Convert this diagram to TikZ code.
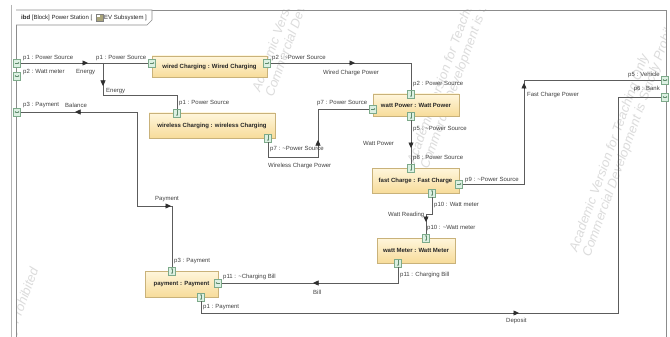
\documentclass[tikz,border=0pt]{standalone}
\usepackage{fontspec}
\setmainfont{Liberation Sans}
\usetikzlibrary{arrows.meta,shadows,calc}

\definecolor{frameline}{HTML}{8C8C8C}
\definecolor{canvasline}{HTML}{B4B4B4}
\definecolor{wirecol}{HTML}{5C5C5C}
\definecolor{tipcolor}{HTML}{2E2E2E}
\definecolor{labeltext}{HTML}{404040}
\definecolor{blocktop}{HTML}{FFF6DC}
\definecolor{blockbottom}{HTML}{F7DC9A}
\definecolor{blockedge}{HTML}{C9B27A}
\definecolor{portfill}{HTML}{DCF0E2}
\definecolor{portedge}{HTML}{7DAA8A}
\definecolor{glyphcol}{HTML}{5E8A6B}
\definecolor{wmcol}{HTML}{DCDCDC}
\definecolor{iconfill}{HTML}{A9A47A}

\tikzset{
  partbox/.style={draw=blockedge, line width=0.5pt, top color=blocktop, bottom color=blockbottom,
    drop shadow={shadow xshift=1.3pt, shadow yshift=-1.3pt, opacity=0.22},
    font=\fontsize{6}{7}\selectfont\bfseries, text=black!85, inner sep=0pt},
  port/.style={draw=portedge, fill=portfill, line width=0.45pt, minimum width=7pt,
    minimum height=8.5pt, inner sep=0pt},
  glyph/.style={draw=glyphcol, line width=0.3pt},
  gtip/.tip={Stealth[length=1.6pt,width=1.8pt]},
  gR/.style={path picture={\draw[glyph,-{gtip}] ([xshift=1.3pt]path picture bounding box.west) -- ([xshift=-1.1pt]path picture bounding box.east);}},
  gL/.style={path picture={\draw[glyph,-{gtip}] ([xshift=-1.3pt]path picture bounding box.east) -- ([xshift=1.1pt]path picture bounding box.west);}},
  gLR/.style={path picture={\draw[glyph,{gtip}-{gtip}] ([xshift=1.1pt]path picture bounding box.west) -- ([xshift=-1.1pt]path picture bounding box.east);}},
  gD/.style={path picture={\draw[glyph,-{gtip}] ([yshift=-1.4pt]path picture bounding box.north) -- ([yshift=1.2pt]path picture bounding box.south);}},
  gUD/.style={path picture={\draw[glyph,{gtip}-{gtip}] ([yshift=-1.2pt]path picture bounding box.north) -- ([yshift=1.2pt]path picture bounding box.south);}},
  wire/.style={draw=wirecol, line width=0.6pt},
  flowtip/.style={draw=tipcolor, line width=0.5pt, -{Triangle[length=5.5pt,width=5pt]}},
  lbl/.style={font=\fontsize{6}{7}\selectfont, text=labeltext, inner sep=0pt, anchor=west},
  wm/.style={font=\fontsize{13}{15}\selectfont\itshape, text=wmcol, rotate=70,
    anchor=base west, inner sep=0pt},
}

% one tile of the licence watermark, starting point of the first line
\newcommand\wmtile[2]{%
  \node[wm] at (#1,#2) {Academic Version for Teaching Only};
  \node[wm] at ($(#1,#2)+(13,5)$) {Commercial Development is Strictly Prohibited};
}

\begin{document}
\begin{tikzpicture}[x=1pt, y=-1pt]
\useasboundingbox (0,0) rectangle (670,337);
\clip (0,0) rectangle (670,337);
\fill[white] (0,0) rectangle (670,337);

% watermark tiles inside the diagram frame
\begin{scope}
  \clip (16,10) rectangle (666,337);
  \wmtile{260}{93}
  \wmtile{415}{165}
  \wmtile{577}{253}
  \wmtile{-66}{516}
\end{scope}

% diagram frame
\draw[canvasline, line width=0.6pt] (11,5) -- (11,345);
\draw[frameline, line width=0.8pt] (16,345) -- (16,10) -- (666,10) -- (666,345);
\draw[frameline, line width=0.6pt, fill=white] (16,10) -- (152,10) -- (152,20) -- (147,25) -- (16,25);
\node[lbl, text=black!85] (hdr) at (21,17.5) {\textbf{ibd} [Block] Power Station [};
\node[draw=gray, fill=iconfill, line width=0.3pt, minimum size=6.5pt, inner sep=0pt] (hicon) at (99.5,17.5) {};
\fill[white] ([xshift=1.2pt,yshift=-1.2pt]hicon.north west) rectangle ([xshift=3.4pt,yshift=-3.4pt]hicon.north west);
\node[lbl, text=black!85] (hdr2) at (104,17.5) {EV Subsystem ]};

% parts
\node[partbox, minimum width=115pt, minimum height=21pt] (wired) at (209.5,66.5) {wired Charging : Wired Charging};
\node[partbox, minimum width=126pt, minimum height=25pt] (wireless) at (212,125.5) {wireless Charging : wireless Charging};
\node[partbox, minimum width=86pt, minimum height=22pt] (wattpower) at (416,105) {watt Power : Watt Power};
\node[partbox, minimum width=87pt, minimum height=25pt] (fastcharge) at (415.5,180.5) {fast Charge : Fast Charge};
\node[partbox, minimum width=78pt, minimum height=25pt] (wattmeter) at (416,250.5) {watt Meter : Watt Meter};
\node[partbox, minimum width=73pt, minimum height=26pt] (payment) at (181.5,284) {payment : Payment};

% ports on the frame
\node[port, gR] (bp1) at (17,63) {};
\node[port, gLR] (bp2) at (17,76) {};
\node[port, gLR] (bp3) at (17,112) {};
\node[port, gLR] (bp5) at (665,80) {};
\node[port, gLR] (bp6) at (665,97) {};

% ports on the parts
\node[port, gR] (wp1) at (152,63) {};
\node[port, gR] (wp2) at (267,63) {};
\node[port, gD] (wlp1) at (177,113) {};
\node[port, gD] (wlp7) at (268,138) {};
\node[port, gR] (wpp7) at (373,109) {};
\node[port, gD] (wpp2) at (411,94) {};
\node[port, gD] (wpp5) at (411,116) {};
\node[port, gD] (fcp8) at (411,168) {};
\node[port, gR] (fcp9) at (459,184) {};
\node[port, gUD] (fcp10) at (432,193) {};
\node[port, gUD] (wmp10) at (426,238) {};
\node[port, gD] (wmp11) at (398,263) {};
\node[port, gUD] (pp3) at (172,271) {};
\node[port, gL] (pp11) at (218,283) {};
\node[port, gUD] (pp1) at (201,297) {};

% bends of the connectors
\coordinate (j1) at (103,63);
\coordinate (b1) at (103,95);
\coordinate (b4) at (318,157);
\coordinate (b6) at (524,80);
\coordinate (b7) at (426,214);
\coordinate (b9) at (137,206);
\coordinate (b10) at (618,313);

% connectors
\draw[wire] (bp1.east) -- (wp1.west);
\draw[wire] (j1) -- (b1) -| (wlp1.north);
\draw[wire] (wp2.east) -| (wpp2.north);
\draw[wire] (wlp7.south) |- (b4) |- (wpp7.west);
\draw[wire] (wpp5.south) -- (fcp8.north);
\draw[wire] (fcp9.east) -| (b6) -- (bp5.west);
\draw[wire] (fcp10.south) |- (b7) -- (wmp10.north);
\draw[wire] (wmp11.south) |- (pp11.east);
\draw[wire] (bp3.east) -| (b9) -| (pp3.north);
\draw[wire] (pp1.south) |- (b10) |- (bp6.west);

% flow direction marks
\coordinate (tEnergyA) at (88,63);
\coordinate (tEnergyB) at (103,86);
\coordinate (tWired) at (355,63);
\coordinate (tWireless) at (318,140);
\coordinate (tWattPower) at (411,148);
\coordinate (tFast) at (524,83);
\coordinate (tReading) at (426,222);
\coordinate (tBill) at (313,283);
\coordinate (tBalance) at (75,112);
\coordinate (tPayment) at (171,206);
\coordinate (tDeposit) at (519,313);
\draw[flowtip] ([xshift=-6pt]tEnergyA) -- (tEnergyA);
\draw[flowtip] ([yshift=6pt]tEnergyB) -- (tEnergyB);
\draw[flowtip] ([xshift=-6pt]tWired) -- (tWired);
\draw[flowtip] ([yshift=-6pt]tWireless) -- (tWireless);
\draw[flowtip] ([yshift=6pt]tWattPower) -- (tWattPower);
\draw[flowtip] ([yshift=-6pt]tFast) -- (tFast);
\draw[flowtip] ([yshift=6pt]tReading) -- (tReading);
\draw[flowtip] ([xshift=6pt]tBill) -- (tBill);
\draw[flowtip] ([xshift=6pt]tBalance) -- (tBalance);
\draw[flowtip] ([xshift=-6pt]tPayment) -- (tPayment);
\draw[flowtip] ([xshift=-6pt]tDeposit) -- (tDeposit);

% port and flow labels
\node[lbl] (l1) at (23,58) {p1 : Power Source};
\node[lbl] (l2) at (23,72.5) {p2 : Watt meter};
\node[lbl] (l3) at (76,72) {Energy};
\node[lbl] (l4) at (96,58) {p1 : Power Source};
\node[lbl] (l5) at (106,91) {Energy};
\node[lbl] (l6) at (179,103) {p1 : Power Source};
\node[lbl] (l7) at (272,58.5) {p2 : \textasciitilde Power Source};
\node[lbl] (l8) at (323,73) {Wired Charge Power};
\node[lbl] (l9) at (413,84) {p2 : Power Source};
\node[lbl] (l10) at (317,103) {p7 : Power Source};
\node[lbl] (l11) at (270,149) {p7 : \textasciitilde Power Source};
\node[lbl] (l12) at (268,165.5) {Wireless Charge Power};
\node[lbl] (l13) at (413,129) {p5 : \textasciitilde Power Source};
\node[lbl] (l14) at (363,143.5) {Watt Power};
\node[lbl] (l15) at (413,158) {p8 : Power Source};
\node[lbl] (l16) at (465,180) {p9 : \textasciitilde Power Source};
\node[lbl] (l17) at (527,95) {Fast Charge Power};
\node[lbl, anchor=east] (l18) at (660,74.5) {p5 : Vehicle};
\node[lbl, anchor=east] (l19) at (660,89) {p6 : Bank};
\node[lbl] (l20) at (434,205) {p10 : Watt meter};
\node[lbl] (l21) at (388,215) {Watt Reading};
\node[lbl] (l22) at (427,228) {p10 : \textasciitilde Watt meter};
\node[lbl] (l23) at (400,275) {p11 : Charging Bill};
\node[lbl] (l24) at (313,292) {Bill};
\node[lbl] (l25) at (223,277) {p11 : \textasciitilde Charging Bill};
\node[lbl] (l26) at (23,105) {p3 : Payment};
\node[lbl] (l27) at (65,105) {Balance};
\node[lbl] (l28) at (155,199) {Payment};
\node[lbl] (l29) at (174,261) {p3 : Payment};
\node[lbl] (l30) at (203,307) {p1 : Payment};
\node[lbl] (l31) at (506,321) {Deposit};
\end{tikzpicture}
\end{document}
